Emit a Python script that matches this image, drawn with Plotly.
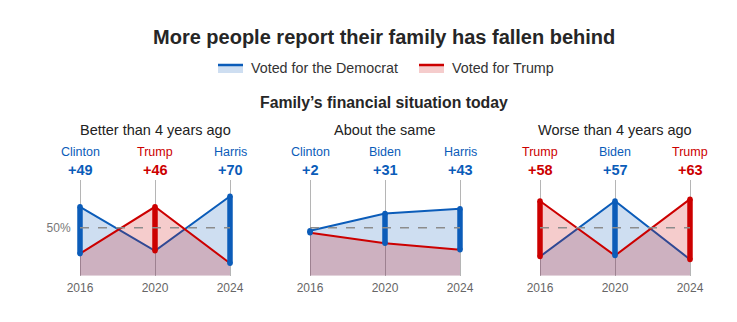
import plotly.graph_objects as go

# ---------------- data ----------------
years = [2016, 2020, 2024]
panel_titles = ["Better than 4 years ago", "About the same", "Worse than 4 years ago"]
dem_better = [72, 26, 83]
rep_better = [23, 72, 13]
dem_same = [47, 65, 70]
rep_same = [45, 34, 27]
dem_worse = [20, 78, 17]
rep_worse = [78, 21, 80]
dem_names = ["Clinton", "Biden", "Harris"]
rep_name = "Trump"
midline = 50

panels_dem = [dem_better, dem_same, dem_worse]
panels_rep = [rep_better, rep_same, rep_worse]

BLUE = "#0b5cb9"
RED = "#cc0000"
BLUE_FILL = "rgba(10,92,185,0.2)"
RED_FILL = "rgba(204,0,0,0.2)"
FONT = "Liberation Sans"

W, H = 737, 322
px_x = lambda p: p / W
px_y = lambda p: 1 - p / H

domains = [(80, 230), (310, 460), (540, 690)]
PAD = 5  # px of extra room so edge bars are not clipped
ydom = [px_y(275.7), px_y(180)]
span = years[-1] - years[0]

fig = go.Figure()
annotations = []
shapes = []

for i in range(3):
    xa = "x" if i == 0 else f"x{i+1}"
    ya = "y" if i == 0 else f"y{i+1}"
    dem = panels_dem[i]
    rep = panels_rep[i]
    fig.add_trace(go.Scatter(x=years, y=dem, mode="lines", line=dict(color=BLUE, width=2),
                             fill="tozeroy", fillcolor=BLUE_FILL, xaxis=xa, yaxis=ya,
                             showlegend=False, hoverinfo="skip", cliponaxis=False))
    fig.add_trace(go.Scatter(x=years, y=rep, mode="lines", line=dict(color=RED, width=2),
                             fill="tozeroy", fillcolor=RED_FILL, xaxis=xa, yaxis=ya,
                             showlegend=False, hoverinfo="skip", cliponaxis=False))
    shapes.append(dict(type="line", xref=xa, yref=ya, x0=years[0], x1=years[-1],
                       y0=midline, y1=midline, layer="above",
                       line=dict(color="#8c8c8c", width=1.5, dash="dash")))
    for j, yr in enumerate(years):
        d, r = dem[j], rep[j]
        win_dem = d >= r
        col = BLUE if win_dem else RED
        fig.add_trace(go.Scatter(x=[yr, yr], y=[min(d, r), max(d, r)], mode="lines+markers",
                                 line=dict(color=col, width=5.5),
                                 marker=dict(color=col, size=5.5),
                                 xaxis=xa, yaxis=ya, showlegend=False, hoverinfo="skip",
                                 cliponaxis=False))
        name = dem_names[j] if win_dem else rep_name
        margin = abs(d - r)
        annotations.append(dict(x=yr, xref=xa, y=px_y(152), yref="paper", text=name,
                                showarrow=False, font=dict(family=FONT, size=12.5, color=col),
                                xanchor="center", yanchor="middle"))
        annotations.append(dict(x=yr, xref=xa, y=px_y(170), yref="paper", text=f"<b>+{margin}</b>",
                                showarrow=False, font=dict(family=FONT, size=14.5, color=col),
                                xanchor="center", yanchor="middle"))
    cx = (domains[i][0] + domains[i][1]) / 2
    annotations.append(dict(x=px_x(cx), xref="paper", y=px_y(130), yref="paper",
                            text=panel_titles[i], showarrow=False,
                            font=dict(family=FONT, size=14.5, color="#222"),
                            xanchor="center", yanchor="middle"))

    xkey = "xaxis" if i == 0 else f"xaxis{i+1}"
    ykey = "yaxis" if i == 0 else f"yaxis{i+1}"
    w = domains[i][1] - domains[i][0]
    rpad = span * PAD / w
    fig.update_layout(**{
        xkey: dict(domain=[px_x(domains[i][0] - PAD), px_x(domains[i][1] + PAD)],
                   range=[years[0] - rpad, years[-1] + rpad],
                   anchor=ya, tickvals=years, ticktext=[str(y) for y in years],
                   showgrid=True, gridcolor="#b5b5b5", gridwidth=1, zeroline=False,
                   showline=False, ticks="outside", ticklen=1, tickcolor="rgba(0,0,0,0)",
                   automargin=False,
                   tickfont=dict(family=FONT, size=12, color="#666"), fixedrange=True),
        ykey: dict(domain=ydom, range=[0, 100], anchor=xa, showgrid=False, zeroline=False,
                   showline=False, tickvals=[midline], ticktext=[f"{midline}%"],
                   showticklabels=(i == 0), ticks="outside" if i == 0 else "", ticklen=1,
                   tickcolor="rgba(0,0,0,0)", automargin=False,
                   tickfont=dict(family=FONT, size=12, color="#777"), fixedrange=True),
    })

# title, legend, subtitle
annotations.append(dict(x=px_x(384), xref="paper", y=px_y(37), yref="paper",
                        text="<b>More people report their family has fallen behind</b>",
                        showarrow=False, font=dict(family=FONT, size=20, color="#262626"),
                        xanchor="center", yanchor="middle"))
annotations.append(dict(x=px_x(384), xref="paper", y=px_y(102), yref="paper",
                        text="<b>Family’s financial situation today</b>",
                        showarrow=False, font=dict(family=FONT, size=15.8, color="#262626"),
                        xanchor="center", yanchor="middle"))
legend_items = [("Voted for the Democrat", BLUE, BLUE_FILL, 218),
                ("Voted for Trump", RED, RED_FILL, 419)]
for label, col, fillc, x0 in legend_items:
    shapes.append(dict(type="rect", xref="paper", yref="paper", x0=px_x(x0), x1=px_x(x0 + 25),
                       y0=px_y(73), y1=px_y(65.5), fillcolor=fillc, line=dict(width=0)))
    shapes.append(dict(type="line", xref="paper", yref="paper", x0=px_x(x0), x1=px_x(x0 + 25),
                       y0=px_y(65), y1=px_y(65), line=dict(color=col, width=2.5)))
    annotations.append(dict(x=px_x(x0 + 31), xref="paper", y=px_y(68), yref="paper",
                            text=label, showarrow=False,
                            font=dict(family=FONT, size=14.3, color="#333"),
                            xanchor="left", yanchor="middle"))

fig.update_layout(width=W, height=H, margin=dict(l=0, r=0, t=0, b=0, autoexpand=False),
                  paper_bgcolor="white", plot_bgcolor="white",
                  annotations=annotations, shapes=shapes, showlegend=False)

fig.write_html("out.html", config={"displayModeBar": False})
